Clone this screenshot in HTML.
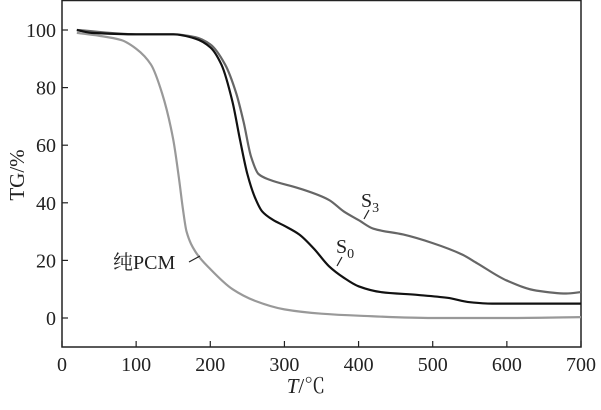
<!DOCTYPE html>
<html><head><meta charset="utf-8"><style>
body{margin:0;background:#fff}
svg text{font-family:"Liberation Serif","Noto Serif CJK SC",serif;fill:#222}
</style></head><body>
<svg width="601" height="405" xmlns="http://www.w3.org/2000/svg">
<g id="axes"></g><g id="series"></g>
<text x="306" y="393" font-size="21" text-anchor="middle"><tspan font-style="italic">T</tspan>/℃</text>
<text transform="translate(24,175) rotate(-90)" font-size="21" text-anchor="middle">TG/%</text>
<text x="113" y="269" font-size="20">纯PCM</text>
<line x1="189" y1="262" x2="200" y2="256" stroke="#222" stroke-width="1.2"/>
<text x="361" y="207" font-size="20">S<tspan font-size="14" dy="5">3</tspan></text>
<line x1="369" y1="210" x2="364" y2="219" stroke="#222" stroke-width="1.2"/>
<text x="336" y="253" font-size="20">S<tspan font-size="14" dy="5">0</tspan></text>
<line x1="342" y1="257" x2="337" y2="266" stroke="#222" stroke-width="1.2"/>
</svg>
<script>
const xTicks=[0,100,200,300,400,500,600,700];
const yTicks=[0,20,40,60,80,100];
const pcmT=[20,50,80,100,120,135,150,158,163,168,180,200,230,260,300,350,400,500,600,700];
const pcmW=[99,98,96.5,93.5,88,78,62,48,38,30,23,17,10,6,3,1.5,0.8,0,0,0.3];
const s0T=[20,40,100,150,180,200,215,230,240,250,260,270,285,300,320,340,360,380,400,430,480,520,550,580,620,700];
const s0W=[100,99,98.5,98.5,97,94,88,75,62,50,42,37,34,32,29,24,18,14,11,9,8,7,5.5,5,5,5];
const s3T=[20,100,150,180,200,220,235,245,255,265,280,320,360,380,400,420,460,500,540,560,600,640,680,700];
const s3W=[100,98.5,98.5,97.5,95,88,78,68,56,50,48,45,41,37,34,31,29,26,22,19,13,9.5,8.5,9];
const X=v=>62+v*(581-62)/700, Y=v=>318-v*2.88;
const NS="http://www.w3.org/2000/svg";
const ax=document.getElementById('axes'), se=document.getElementById('series');
function mk(tag,at,par){const e=document.createElementNS(NS,tag);for(const k in at)e.setAttribute(k,at[k]);par.appendChild(e);return e;}
const fr=mk('rect',{x:62,y:0.5,width:519,height:346.5,fill:'none',stroke:'#222','stroke-width':1.5},ax);


xTicks.forEach(t=>{const l=mk('line',{x1:X(t),x2:X(t),y1:347,y2:341,stroke:'#222','stroke-width':1.2},ax);


const tx=mk('text',{x:X(t),y:371,'font-size':20,'text-anchor':'middle'},ax);tx.textContent=t;

});
yTicks.forEach(t=>{const l=mk('line',{x1:62,x2:68,y1:Y(t),y2:Y(t),stroke:'#222','stroke-width':1.2},ax);


const tx=mk('text',{x:56,y:Y(t)+7,'font-size':20,'text-anchor':'end'},ax);tx.textContent=t;

});
function line(T,W,col,name){
const xs=T.map(X), ys=W.map(Y), n=xs.length;
const dl=[],m=[];
for(let i=0;i<n-1;i++)dl.push((ys[i+1]-ys[i])/(xs[i+1]-xs[i]));
m[0]=dl[0];m[n-1]=dl[n-2];
for(let i=1;i<n-1;i++){if(dl[i-1]*dl[i]<=0)m[i]=0;else{const a=xs[i]-xs[i-1],b=xs[i+1]-xs[i];m[i]=3*(a+b)/((2*b+a)/dl[i-1]+(b+2*a)/dl[i]);}}
let d='M'+xs[0]+','+ys[0];
for(let i=0;i<n-1;i++){const h=(xs[i+1]-xs[i])/3;
d+=` C${xs[i]+h},${ys[i]+m[i]*h} ${xs[i+1]-h},${ys[i+1]-m[i+1]*h} ${xs[i+1]},${ys[i+1]}`;}
const e=mk('path',{d,fill:'none',stroke:col,'stroke-width':2.2},se);

}
line(pcmT,pcmW,'#999','series-pure-pcm');
line(s3T,s3W,'#666','series-s3');
line(s0T,s0W,'#111','series-s0');
</script>
</body></html>
